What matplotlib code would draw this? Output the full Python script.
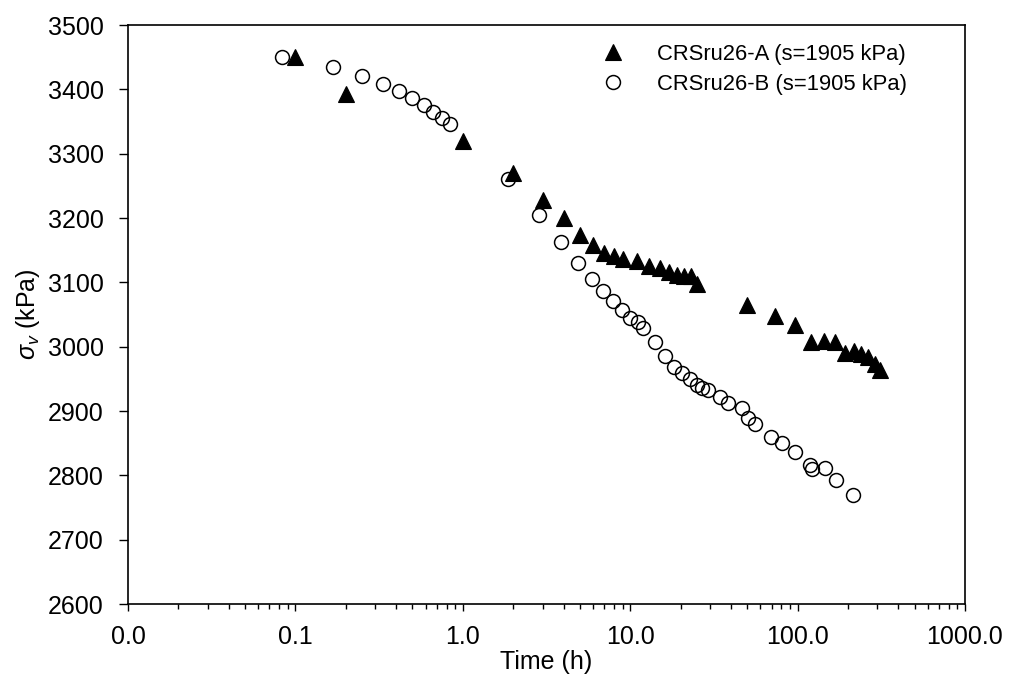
import matplotlib
matplotlib.use("Agg")
import matplotlib.pyplot as plt
from matplotlib.ticker import FixedLocator, FuncFormatter, LogLocator, NullFormatter

plt.rcParams['font.family'] = ['Liberation Sans', 'DejaVu Sans']
plt.rcParams['mathtext.fontset'] = 'custom'
plt.rcParams['mathtext.rm'] = 'Liberation Sans'
plt.rcParams['mathtext.it'] = 'Liberation Sans:italic'

# Series A (triangles)
time_a = [0.1, 0.2, 1, 2, 3, 4, 5, 6, 7, 8, 9, 11, 13, 15, 17, 19, 21, 23, 25,
          50, 73, 96, 120, 144, 168, 192, 216, 240, 264, 288, 312]
sigma_a = [3450, 3393, 3320, 3270, 3228, 3200, 3174, 3158, 3145, 3141, 3137, 3133,
           3126, 3122, 3116, 3111, 3110, 3110, 3097,
           3065, 3048, 3034, 3007, 3009, 3007, 2990, 2993, 2989, 2984, 2973, 2964]

# Series B (circles)
time_b = [0.083, 0.167, 0.25, 0.333, 0.417, 0.5, 0.583, 0.667, 0.75, 0.833,
          1.86, 2.86, 3.87, 4.89, 5.93, 6.89, 7.9, 8.95, 10.0, 11.1, 12.0, 14.0,
          16.2, 18.2, 20.4, 22.9, 25.1, 26.9, 29.0, 34.3, 38.4, 46.5, 50.5, 55.3,
          69.3, 80.6, 95.9, 117.8, 121.7, 146.2, 169.9, 213.6]
sigma_b = [3450, 3435, 3420, 3408, 3397, 3386, 3375, 3364, 3355, 3346,
           3260, 3205, 3162, 3130, 3105, 3087, 3071, 3057, 3045, 3038, 3029, 3007,
           2986, 2969, 2959, 2949, 2940, 2936, 2933, 2922, 2912, 2904, 2889, 2880,
           2859, 2850, 2836, 2816, 2810, 2811, 2792, 2770]

label_a = "CRSru26-A (s=1905 kPa)"
label_b = "CRSru26-B (s=1905 kPa)"
x_ticks = [0.01, 0.1, 1, 10, 100, 1000]
y_ticks = [2600, 2700, 2800, 2900, 3000, 3100, 3200, 3300, 3400, 3500]

W, H = 1010, 680
fig = plt.figure(figsize=(W / 100, H / 100), dpi=100)
left, right, top, bottom = 128, 965, 25, 604
ax = fig.add_axes([left / W, 1 - bottom / H, (right - left) / W, (bottom - top) / H])

ax.plot(time_a, sigma_a, linestyle='none', marker='^', markersize=11,
        markerfacecolor='black', markeredgecolor='black', markeredgewidth=0.8,
        label=label_a)
ax.plot(time_b, sigma_b, linestyle='none', marker='o', markersize=10,
        markerfacecolor='none', markeredgecolor='black', markeredgewidth=1.1,
        label=label_b)

ax.set_xscale('log')
ax.set_xlim(0.01, 1000)
ax.set_ylim(2600, 3500)
ax.xaxis.set_major_locator(FixedLocator(x_ticks))
ax.xaxis.set_major_formatter(FuncFormatter(lambda v, p: f"{v:.1f}"))
ax.xaxis.set_minor_locator(LogLocator(base=10, subs=range(2, 10), numticks=20))
ax.xaxis.set_minor_formatter(NullFormatter())
ax.set_yticks(y_ticks)

ax.tick_params(axis='y', which='major', direction='out', length=6.5, width=1,
               labelsize=18, pad=11, colors='black')
ax.tick_params(axis='x', which='major', direction='out', length=5, width=1,
               labelsize=18, pad=10, colors='black')
ax.tick_params(axis='x', which='minor', direction='out', length=3.6, width=1)
ax.tick_params(top=False, right=False)
for s in ax.spines.values():
    s.set_linewidth(1.2)

ax.set_xlabel("Time (h)", fontsize=18, labelpad=1,
              family=['Liberation Sans Narrow', 'Liberation Sans', 'DejaVu Sans'])
ax.set_ylabel(r"$\sigma_v$ (kPa)", fontsize=18, labelpad=4)

fs = 15.8
ax.legend(loc='upper left', frameon=False, fontsize=fs, handletextpad=1.5,
          handlelength=1.0, borderpad=0, borderaxespad=0, labelspacing=0.4,
          bbox_to_anchor=(602 / W, 1 - 44 / H), bbox_transform=fig.transFigure)

fig.savefig("out.png", dpi=100)
